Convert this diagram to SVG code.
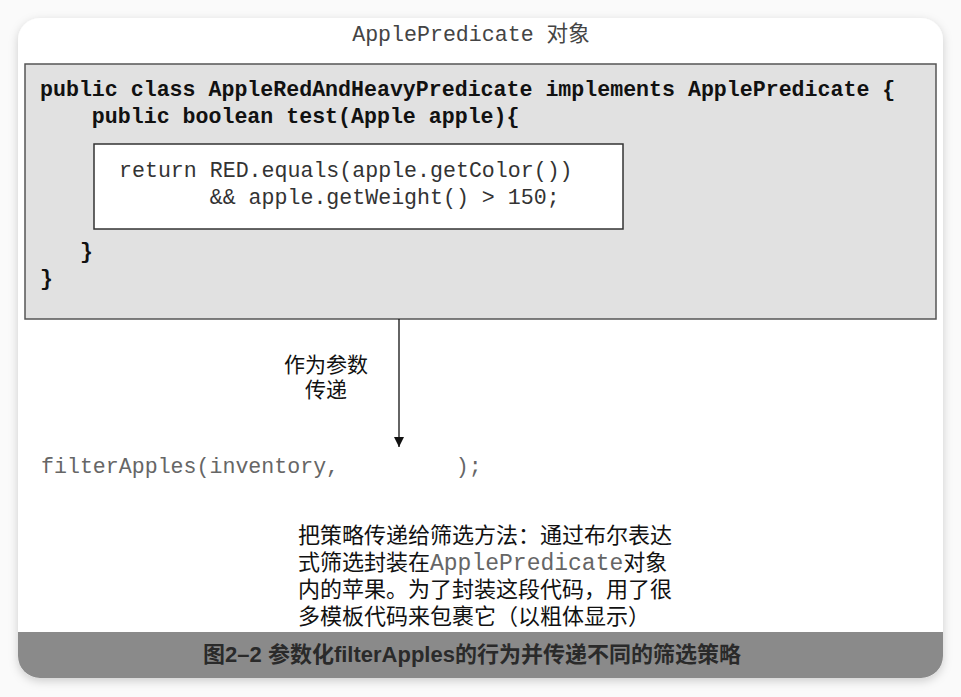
<svg xmlns="http://www.w3.org/2000/svg" width="961" height="697" viewBox="0 0 961 697">
<defs>
<filter id="shadow" x="-5%" y="-5%" width="110%" height="112%">
<feDropShadow dx="0" dy="3" stdDeviation="5" flood-color="#000" flood-opacity="0.18"/>
</filter>
<clipPath id="cardClip"><rect x="18" y="18" width="925" height="660" rx="22"/></clipPath>
<marker id="arrow" viewBox="0 0 10 10" refX="10" refY="5" markerWidth="10" markerHeight="12" markerUnits="userSpaceOnUse" orient="auto">
<path d="M0,0 L10,5 L0,10 z" fill="#111"/>
</marker>
<style>
.mono{font-family:"Liberation Mono","Noto Sans CJK SC",monospace;font-size:21.6px;}
.code{fill:#111;font-weight:bold;}
.inner{fill:#333;}
.cjk{font-family:"Liberation Sans","Noto Sans CJK SC",sans-serif;font-size:21px;fill:#111;}
.para{font-family:"Liberation Sans","Noto Sans CJK SC",sans-serif;font-size:22px;fill:#111;}
.paramono{font-family:"Liberation Mono",monospace;font-size:23px;fill:#666;}
.cap{font-family:"Liberation Sans","Noto Sans CJK SC",sans-serif;font-size:22px;font-weight:bold;fill:#2a2a2a;}
</style>
</defs>
<rect width="961" height="697" fill="#fafafa"/>
<g id="card">
<rect x="18" y="18" width="925" height="660" rx="22" fill="#fff" filter="url(#shadow)"/>
<rect x="18" y="632" width="925" height="46" fill="#8a8a8a" clip-path="url(#cardClip)"/>
</g>
<g id="title">
<text x="471" y="41" text-anchor="middle" class="mono" fill="#444">ApplePredicate 对象</text>
</g>
<g id="predicate-class">
<rect x="25" y="64" width="911" height="255" fill="#e1e1e1" stroke="#555" stroke-width="1.5"/>
<text x="40" y="96" class="mono code" xml:space="preserve">public class AppleRedAndHeavyPredicate implements ApplePredicate {</text>
<text x="40" y="123" class="mono code" xml:space="preserve">    public boolean test(Apple apple){</text>
<text x="80" y="258" class="mono code">}</text>
<text x="40" y="285" class="mono code">}</text>
</g>
<g id="predicate-body">
<rect x="94" y="144" width="529" height="85" fill="#fff" stroke="#333" stroke-width="1.5"/>
<text x="119" y="177" class="mono inner" xml:space="preserve">return RED.equals(apple.getColor())</text>
<text x="119" y="204" class="mono inner" xml:space="preserve">       &amp;&amp; apple.getWeight() &gt; 150;</text>
</g>
<g id="connectors">
<line x1="399" y1="319" x2="399" y2="447" stroke="#111" stroke-width="1.3" marker-end="url(#arrow)"/>
</g>
<g id="arrow-label">
<text x="326" y="372" text-anchor="middle" class="cjk">作为参数</text>
<text x="326" y="397" text-anchor="middle" class="cjk">传递</text>
</g>
<g id="filter-call">
<text x="41" y="473" class="mono" fill="#666" xml:space="preserve">filterApples(inventory,         );</text>
</g>
<g id="note">
<text x="298" y="543" class="para">把策略传递给筛选方法：通过布尔表达</text>
<text x="298" y="570" class="para">式筛选封装在<tspan class="paramono">ApplePredicate</tspan>对象</text>
<text x="298" y="597" class="para">内的苹果。为了封装这段代码，用了很</text>
<text x="298" y="624" class="para">多模板代码来包裹它（以粗体显示）</text>
</g>
<g id="caption">
<text x="472" y="662" text-anchor="middle" class="cap">图2–2 参数化filterApples的行为并传递不同的筛选策略</text>
</g>
</svg>
